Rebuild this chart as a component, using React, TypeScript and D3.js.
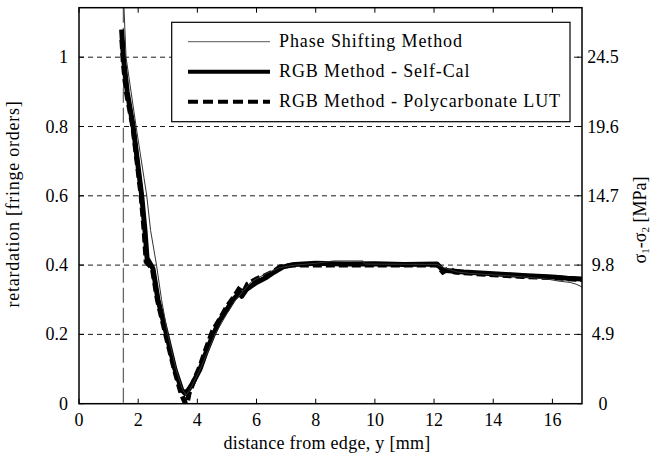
import React from "react";
import * as d3 from "d3";

const xTicks = [0, 2, 4, 6, 8, 10, 12, 14, 16];
const yTicks = [0, 0.2, 0.4, 0.6, 0.8, 1];
const yTickLabels = ["0", "0.2", "0.4", "0.6", "0.8", "1"];
const rightTicks = [0, 4.9, 9.8, 14.7, 19.6, 24.5];
const rightTickLabels = ["0", "4.9", "9.8", "14.7", "19.6", "24.5"];
const edgeX = 1.5;

const phaseX = [1.52, 1.59, 1.93, 2.29, 2.42, 2.62, 2.79, 3.0, 3.28, 3.5, 3.62, 3.75, 4.1, 4.6, 5.0, 5.3, 5.8, 6.3, 6.8, 7.3, 8.0, 8.6, 9.6, 9.65, 12.1, 12.4, 12.8, 13.2, 14, 15, 15.8, 16.2, 16.6, 16.8, 17];
const phaseY = [1.143, 1.0, 0.8, 0.6, 0.5, 0.4, 0.3, 0.2, 0.1, 0.04, 0.025, 0.04, 0.1, 0.2, 0.26, 0.3, 0.35, 0.375, 0.393, 0.4, 0.405, 0.412, 0.412, 0.403, 0.402, 0.39, 0.38, 0.376, 0.372, 0.366, 0.36, 0.354, 0.35, 0.345, 0.337];

const selfX = [1.44, 1.5, 1.63, 1.83, 2.12, 2.23, 2.3, 2.5, 2.67, 2.96, 3.24, 3.47, 3.58, 3.7, 3.85, 4.09, 4.3, 4.54, 4.75, 4.99, 5.2, 5.44, 5.5, 5.66, 6.0, 6.34, 6.6, 6.9, 7.3, 8, 9, 10, 11, 12.1, 12.3, 12.6, 13, 14, 15, 16, 16.5, 17];
const selfY = [1.08, 1.0, 0.9, 0.8, 0.6, 0.5, 0.42, 0.39, 0.3, 0.2, 0.1, 0.04, 0.03, 0.04, 0.06, 0.1, 0.15, 0.2, 0.24, 0.27, 0.3, 0.32, 0.31, 0.33, 0.35, 0.365, 0.38, 0.395, 0.402, 0.405, 0.403, 0.404, 0.402, 0.403, 0.385, 0.383, 0.38, 0.375, 0.37, 0.366, 0.362, 0.36];

const lutX = [1.45, 1.5, 1.6, 1.82, 2.1, 2.2, 2.27, 2.48, 2.65, 2.93, 3.22, 3.45, 3.55, 3.6, 3.65, 3.72, 3.9, 4.1, 4.3, 4.52, 4.8, 5.0, 5.25, 5.4, 5.55, 5.7, 6.0, 6.3, 6.55, 6.8, 7.2, 8, 9, 10, 11, 12.1, 12.3, 12.5, 12.7, 13, 14, 15, 16, 17];
const lutY = [1.05, 0.98, 0.9, 0.8, 0.6, 0.5, 0.41, 0.39, 0.3, 0.2, 0.1, 0.03, 0.01, 0.0, 0.0, 0.03, 0.07, 0.11, 0.16, 0.21, 0.25, 0.28, 0.31, 0.33, 0.32, 0.345, 0.36, 0.37, 0.38, 0.395, 0.4, 0.4, 0.4, 0.4, 0.4, 0.4, 0.38, 0.39, 0.38, 0.378, 0.372, 0.367, 0.364, 0.358];

const legendLabels = ["Phase Shifting Method", "RGB Method - Self-Cal", "RGB Method - Polycarbonate LUT"];

const W = 655, H = 457;
const L = 79, R = 582, T = 7.7, B = 403.7;
const FONT = "Liberation Serif, DejaVu Serif, serif";

export default function App() {
  const x = d3.scaleLinear().domain([0, 17]).range([L, R]);
  const y = d3.scaleLinear().domain([0, 28 / 24.5]).range([B, T]);
  const yr = d3.scaleLinear().domain([0, 28]).range([B, T]);
  const line = (xs: number[], ys: number[]) =>
    d3.line<number>().x((_, i) => x(xs[i])).y((v) => y(v))(ys) || "";

  const legX = 171.7, legY = 22.3, legW = 398.3, legH = 99.4;
  const rowY = [41.7, 71.7, 101.7];
  const ts = { fontFamily: FONT };

  return (
    <svg width={W} height={H} style={{ position: "absolute", left: 0, top: 0, background: "#fff", fontFamily: FONT }}>
      <defs>
        <clipPath id="plotclip">
          <rect x={L} y={T} width={R - L} height={B - T} />
        </clipPath>
      </defs>
      <rect x={0} y={0} width={W} height={H} fill="#fff" />
      {yTicks.slice(1).map((t) => (
        <line key={t} x1={L} x2={R} y1={y(t)} y2={y(t)} stroke="#000" strokeWidth={0.9} strokeDasharray="5,4" />
      ))}
      <line x1={x(edgeX)} x2={x(edgeX)} y1={T} y2={B} stroke="#666" strokeWidth={1.3} strokeDasharray="15,5" />
      <g clipPath="url(#plotclip)" fill="none">
        <path d={line(selfX, selfY)} stroke="#000" strokeWidth={5} strokeLinejoin="round" />
        <path d={line(lutX, lutY)} stroke="#000" strokeWidth={5} strokeDasharray="9,4" />
        <path d={line(phaseX, phaseY)} stroke="#333" strokeWidth={1} />
      </g>
      {xTicks.map((t) => (
        <g key={t}>
          <line x1={x(t)} x2={x(t)} y1={B} y2={B - 5} stroke="#000" strokeWidth={1} />
          <line x1={x(t)} x2={x(t)} y1={T} y2={T + 5} stroke="#000" strokeWidth={1} />
          <text style={ts} x={x(t)} y={426} fontSize={18} textAnchor="middle">{t}</text>
        </g>
      ))}
      {yTicks.map((t, i) => (
        <g key={t}>
          <line x1={L} x2={L + 5} y1={y(t)} y2={y(t)} stroke="#000" strokeWidth={1} />
          <text style={ts} x={68} y={y(t) + 6} fontSize={18} textAnchor="end">{yTickLabels[i]}</text>
        </g>
      ))}
      {rightTicks.map((t, i) => (
        <g key={t}>
          <line x1={R - 5} x2={R} y1={yr(t)} y2={yr(t)} stroke="#000" strokeWidth={1} />
          <text style={ts} x={603} y={yr(t) + 6} fontSize={18} textAnchor="middle">{rightTickLabels[i]}</text>
        </g>
      ))}
      <rect x={L} y={T} width={R - L} height={B - T} fill="none" stroke="#000" strokeWidth={1.5} />
      <rect x={legX} y={legY} width={legW} height={legH} fill="#fff" stroke="#000" strokeWidth={1.2} />
      <line x1={188} x2={270} y1={rowY[0]} y2={rowY[0]} stroke="#777" strokeWidth={1.2} />
      <line x1={188} x2={270} y1={rowY[1]} y2={rowY[1]} stroke="#000" strokeWidth={4} />
      <line x1={188} x2={270} y1={rowY[2]} y2={rowY[2]} stroke="#000" strokeWidth={4} strokeDasharray="10,5" />
      {legendLabels.map((s, i) => (
        <text style={ts} key={s} x={279} y={rowY[i] + 5.5} fontSize={18} letterSpacing={0.9}>{s}</text>
      ))}
      <text style={ts} x={327} y={449} fontSize={18} letterSpacing={0.3} textAnchor="middle">distance from edge, y [mm]</text>
      <text style={ts} transform={`translate(19,204) rotate(-90)`} fontSize={18} letterSpacing={0.75} textAnchor="middle">retardation [fringe orders]</text>
      <text style={ts} transform={`translate(646,220) rotate(-90)`} fontSize={18} textAnchor="middle">
        σ<tspan fontSize={11} dy={3}>1</tspan><tspan dy={-3}>-σ</tspan><tspan fontSize={11} dy={3}>2</tspan><tspan dy={-3}> [MPa]</tspan>
      </text>
    </svg>
  );
}
